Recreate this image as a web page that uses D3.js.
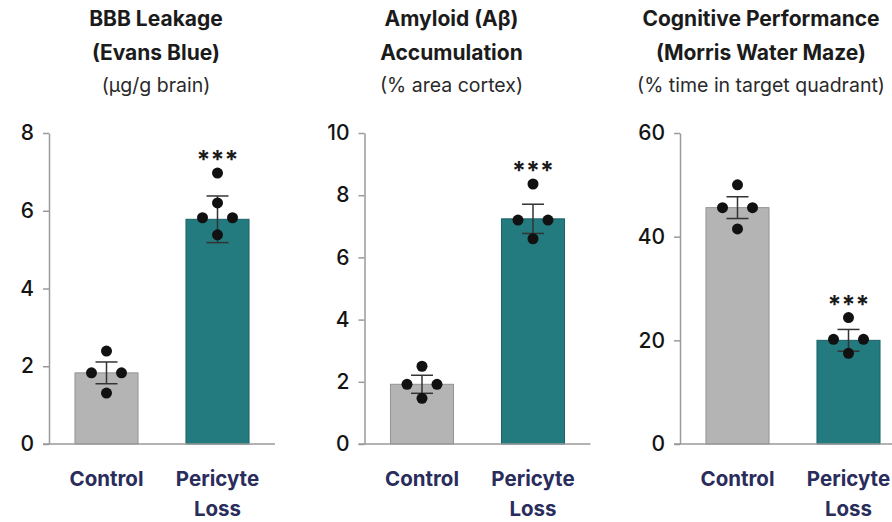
<!DOCTYPE html>
<html>
<head>
<meta charset="utf-8">
<script src="https://cdn.jsdelivr.net/npm/d3@7"></script>
<style>
	body { margin: 0; background: #fff; }
	text { font-family: Inter, "Open Sans", sans-serif; }
</style>
</head>
<body>
<div id="chart"></div>
<script>
// values
const titleLines = [
	["BBB Leakage", "(Evans Blue)"],
	["Amyloid (Aβ)", "Accumulation"],
	["Cognitive Performance", "(Morris Water Maze)"],
]
const units = ["(µg/g brain)", "(% area cortex)", "(% time in target quadrant)"]
const groups = ["Control", "Pericyte Loss"]
const yMax = [8, 10, 60]
const yStep = [2, 2, 20]
const means = [[1.83, 5.78], [1.92, 7.24], [45.6, 20.0]]
const sems = [[0.28, 0.6], [0.29, 0.47], [2.1, 2.1]]
const points = [
	[[2.39, 1.83, 1.83, 1.31], [6.97, 6.2, 5.82, 5.82, 5.38]],
	[[2.5, 1.92, 1.92, 1.47], [8.36, 7.2, 7.2, 6.6]],
	[[50, 45.6, 45.6, 41.5], [24.4, 20.2, 20.2, 17.5]],
]
const stars = [["", "***"], ["", "***"], ["", "***"]]

const width = 892
const height = 522
const plotTop = 133
const plotBottom = 444
const panelW = 226
const titleShift = [107, 87, 81]
const fills = ["#b4b4b4", "#237a7f"]
const strokes = ["#939393", "#1b6166"]

const svg = d3.select("#chart").append("svg").attr("width", width).attr("height", height)

titleLines.forEach((lines, i) => {
	const x0 = 49 + i * 315.5
	const g = svg.append("g").attr("transform", `translate(${x0},0)`)

	const x = d3.scaleBand().domain(groups).range([0, panelW]).paddingInner(0.432).paddingOuter(0.234)
	const y = d3.scaleLinear().domain([0, yMax[i]]).range([plotBottom, plotTop])

	// titles
	const tx = titleShift[i]
	lines.forEach((t, k) => {
		g.append("text")
			.attr("x", tx)
			.attr("y", 26 + k * 34)
			.attr("text-anchor", "middle")
			.style("font-size", "21px")
			.style("font-weight", 700)
			.attr("fill", "#1b1b1b")
			.text(t)
	})
	g.append("text")
		.attr("x", tx)
		.attr("y", 92)
		.attr("text-anchor", "middle")
		.style("font-size", "19.5px")
		.attr("fill", "#2a2a2a")
		.text(units[i])

	// y axis
	const yAxis = g.append("g")
		.call(d3.axisLeft(y).tickValues(d3.range(0, yMax[i] + 0.001, yStep[i])).tickSize(6).tickSizeOuter(0).tickPadding(9))
	yAxis.select(".domain").attr("stroke", "#9a9a9a").attr("stroke-width", 1.5)
	yAxis.selectAll(".tick line").attr("stroke", "#9a9a9a").attr("stroke-width", 1.5)
	yAxis.selectAll(".tick text")
		.attr("fill", "#141414")
		.style("font-size", "21px")
		.style("font-weight", 500)
		.style("font-family", "Inter, sans-serif")

	// bars
	g.selectAll(".bar")
		.data(groups)
		.enter()
		.append("rect")
		.attr("x", d => x(d))
		.attr("y", (d, j) => y(means[i][j]))
		.attr("width", x.bandwidth())
		.attr("height", (d, j) => y(0) - y(means[i][j]))
		.attr("fill", (d, j) => fills[j])
		.attr("stroke", (d, j) => strokes[j])
		.attr("stroke-width", 1)

	// baseline
	g.append("line")
		.attr("x1", -6)
		.attr("x2", i === 2 ? width : panelW)
		.attr("y1", y(0))
		.attr("y2", y(0))
		.attr("stroke", "#9a9a9a")
		.attr("stroke-width", 1.5)

	groups.forEach((grp, j) => {
		const cx = x(grp) + x.bandwidth() / 2
		const m = means[i][j]
		const s = sems[i][j]

		// error bar
		const eb = g.append("g").attr("stroke", "#333").attr("stroke-width", 1.5)
		eb.append("line").attr("x1", cx).attr("x2", cx).attr("y1", y(m + s)).attr("y2", y(m - s))
		;[m + s, m - s].forEach(v => {
			eb.append("line").attr("x1", cx - 11).attr("x2", cx + 11).attr("y1", y(v)).attr("y2", y(v))
		})

		// spread dots that sit at the same height
		const pts = points[i][j]
		const used = pts.map(() => false)
		const placed = []
		pts.forEach((v, k) => {
			if (used[k]) return
			const cluster = pts.map((w, n) => n).filter(n => !used[n] && Math.abs(y(pts[n]) - y(v)) < 6)
			cluster.forEach((n, c) => {
				used[n] = true
				placed.push({ v: pts[n], dx: (c - (cluster.length - 1) / 2) * 30 })
			})
		})

		g.selectAll(null)
			.data(placed)
			.enter()
			.append("circle")
			.attr("cx", d => cx + d.dx)
			.attr("cy", d => y(d.v))
			.attr("r", 5.5)
			.attr("fill", "#111")

		if (stars[i][j]) {
			g.append("text")
				.attr("x", cx)
				.attr("y", y(d3.max(pts)) - 4)
				.attr("text-anchor", "middle")
				.style("font-size", "25px")
				.style("font-weight", 700)
				.attr("fill", "#1b1b1b")
				.text(stars[i][j])
		}

		// x labels
		const words = grp === "Control" ? [grp] : grp.split(" ")
		words.forEach((w, k) => {
			g.append("text")
				.attr("x", cx)
				.attr("y", 486 + k * 30)
				.attr("text-anchor", "middle")
				.style("font-size", "20.5px")
				.style("font-weight", 700)
				.attr("fill", "#2a2d5c")
				.text(w)
		})
	})
})
</script>
</body>
</html>
